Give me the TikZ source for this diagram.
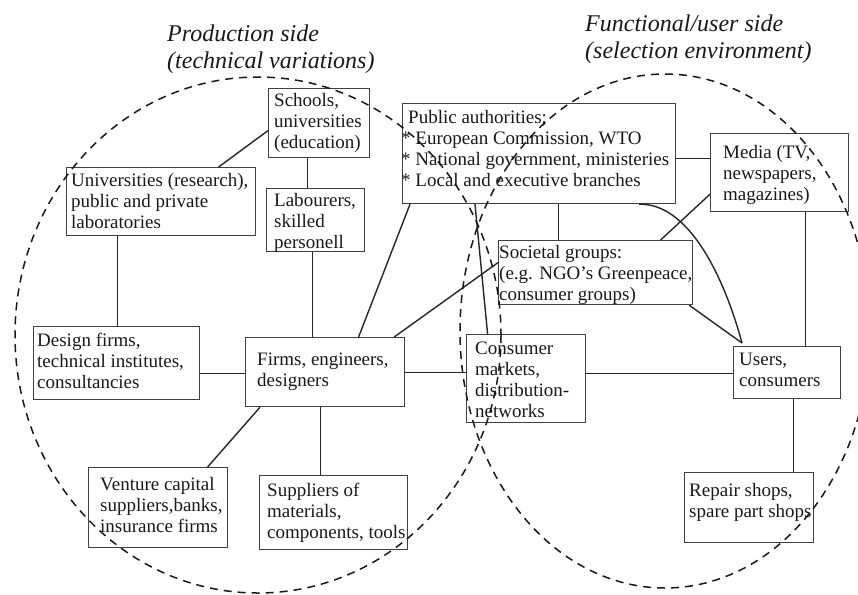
\documentclass[tikz,border=0pt]{standalone}
\usepackage{fontspec}
\setmainfont{Liberation Serif}
\tikzset{
  box/.style={draw=black!75, line width=1.2pt, inner sep=0pt, anchor=north west},
  txt/.style={inner sep=0pt, anchor=north west, align=left, text=black!90, font=\fontsize{19}{21}\selectfont},
  link/.style={line width=1.4pt, draw=black!85},
  circ/.style={line width=1.5pt, draw=black!90, dash pattern=on 8pt off 6pt},
  ttl/.style={inner sep=0pt, anchor=north west, align=left, text=black!90, font=\fontsize{24}{27}\selectfont\itshape}
}
% name, x1, y1, x2, y2, dx, dy, text
\newcommand\mybx[8]{%
  \node[box, minimum width={#4-#2}, minimum height={#5-#3}] (#1) at (#2,#3) {};
  \node[txt] (#1t) at ([shift={(#6,#7)}]#1.north west) {#8};
}
\begin{document}
\begin{tikzpicture}[x=1pt,y=-1pt]
\useasboundingbox (0,0) rectangle (858,594);

\node[ttl] (t1) at (167,25) {Production side\\(technical variations)};
\node[ttl] (t2) at (585,15) {Functional/user side\\(selection environment)};

\mybx{schools}{268}{88}{369}{157}{6}{5}{Schools,\\universities\\(education)}
\mybx{univ}{66}{167}{255}{235}{5}{6}{Universities (research),\\public and private\\laboratories}
\mybx{labour}{266}{188}{364}{251}{8}{5}{Labourers,\\skilled\\personell}
\mybx{public}{402}{103}{675}{203}{6}{7}{Public authorities;\\\hspace*{-7pt}* European Commission, WTO\\\hspace*{-7pt}* National government, ministeries\\\hspace*{-7pt}* Local and executive branches}
\mybx{media}{710}{133}{848}{211}{13}{12}{Media (TV,\\newspapers,\\magazines)}
\mybx{soc}{498}{240}{692}{304}{1}{5}{Societal groups:\\(e.g. NGO’s Greenpeace,\\consumer groups)}
\mybx{cons}{466}{334}{585}{422}{9}{8}{Consumer\\markets,\\distribution-\\networks}
\mybx{users}{733}{346}{840}{398}{6}{7}{Users,\\consumers}
\mybx{repair}{684}{472}{813}{542}{5}{11}{Repair shops,\\spare part shops}
\mybx{design}{33}{326}{199}{399}{4}{7}{Design firms,\\technical institutes,\\consultancies}
\mybx{firms}{245}{337}{404}{406}{12}{16}{Firms, engineers,\\designers}
\mybx{venture}{88}{467}{227}{547}{12}{10}{Venture capital\\suppliers,banks,\\insurance firms}
\mybx{suppliers}{259}{475}{407}{549}{8}{8}{Suppliers of\\materials,\\components, tools}

\draw[link] ([shift={(0,7.5)}]schools.west) -- ([shift={(57.5,0)}]univ.north);
\draw[link] ([shift={(-11.5,0)}]schools.south) -- ([shift={(-8,0)}]labour.north);
\draw[link] ([shift={(-3,0)}]labour.south) -- ([shift={(-12.5,0)}]firms.north);
\draw[link] ([shift={(-43.5,0)}]univ.south) -- ([shift={(1,0)}]design.north);
\draw[link] ([shift={(0,10.5)}]design.east) -- ([shift={(0,1.5)}]firms.west);
\draw[link] ([shift={(33.5,0)}]firms.north) -- ([shift={(8,0)}]public.south west);
\draw[link] ([shift={(-11,0)}]firms.north east) -- ([shift={(0,-10)}]soc.west);
\draw[link] ([shift={(0,0.5)}]firms.east) -- ([shift={(0,-6)}]cons.west);
\draw[link] ([shift={(15,0)}]firms.south west) -- ([shift={(49.5,0)}]venture.north);
\draw[link] ([shift={(-4.5,0)}]firms.south) -- ([shift={(-13,0)}]suppliers.north);
\draw[link] ([shift={(0,-5)}]cons.east) -- ([shift={(0,1)}]users.west);
\draw[link] ([shift={(19.5,0)}]public.south) -- ([shift={(-37,0)}]soc.north);
\draw[link] ([shift={(0,5)}]public.east) -- ([shift={(0,-14)}]media.west);
\draw[link] ([shift={(0,-18)}]media.south west) -- ([shift={(65,0)}]soc.north);
\draw[link] ([shift={(26,0)}]media.south) -- ([shift={(18.5,0)}]users.north);
\draw[link] ([shift={(6.5,0)}]users.south) -- ([shift={(44.5,0)}]repair.north);
\draw[link] ([shift={(-4,0)}]soc.south east) -- ([shift={(9,-3)}]users.north west);
\draw[link] ([shift={(-37,0)}]public.south east) .. controls (690,203) and (725,280) .. ([shift={(9,-3)}]users.north west);
\draw[link] ([shift={(73,0)}]public.south west) -- ([shift={(-38.5,0)}]cons.north);

\draw[circ] (258,335) ellipse [x radius=243, y radius=258];
\draw[circ] (665,331) ellipse [x radius=205, y radius=257];
\end{tikzpicture}
\end{document}
